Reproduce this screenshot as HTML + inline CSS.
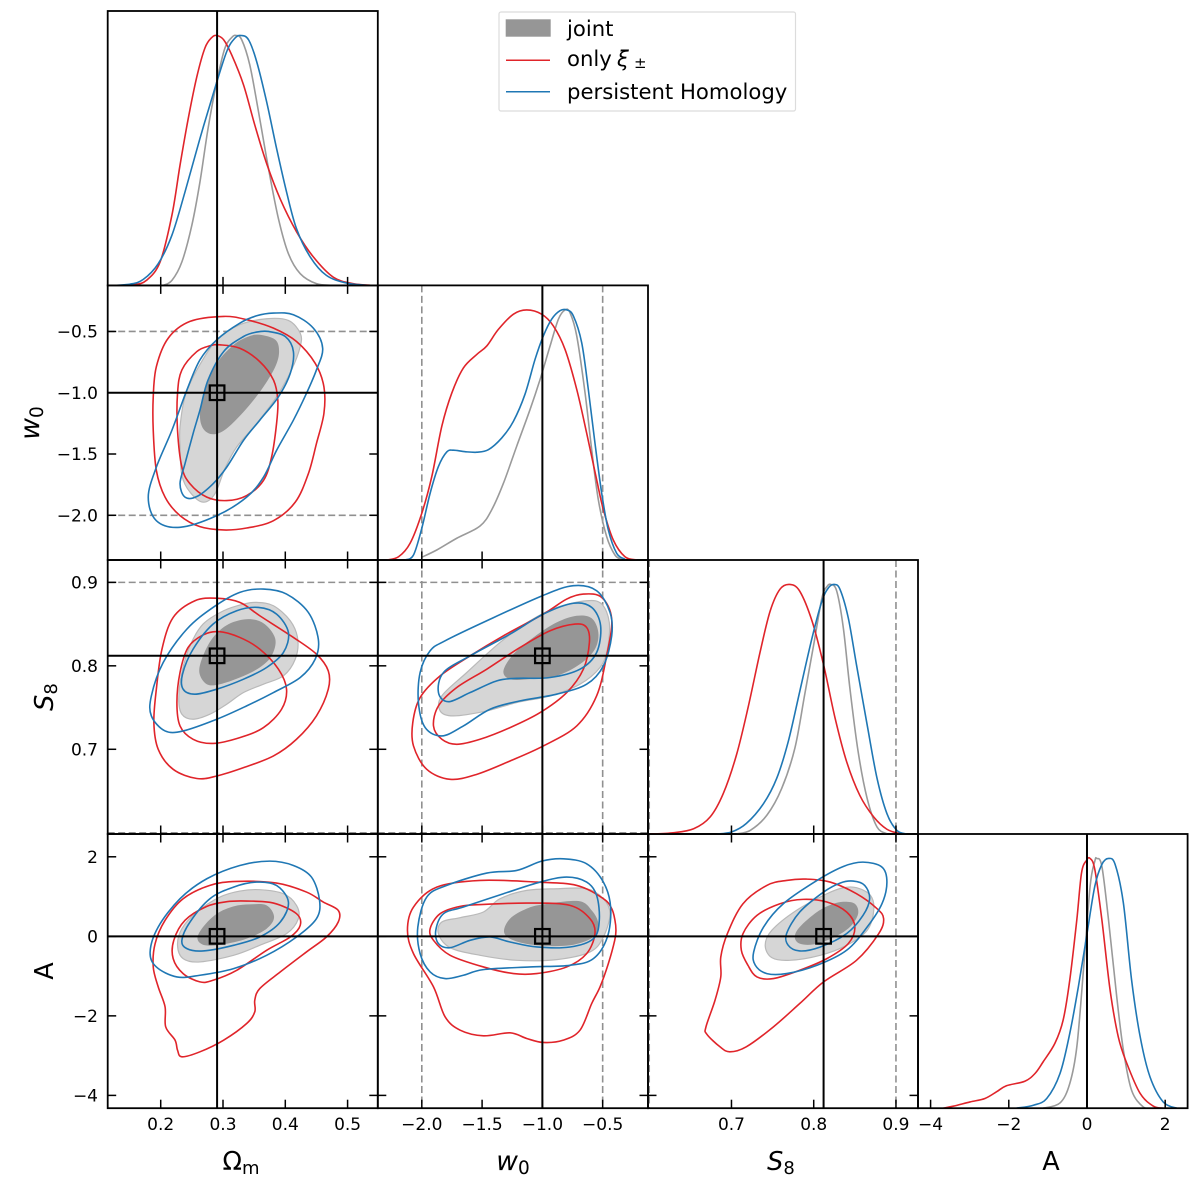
<!DOCTYPE html>
<html lang="en">
<head>
<meta charset="utf-8">
<title>Triangle plot of posterior constraints</title>
<style>
html,body{margin:0;padding:0;background:#fff;width:1200px;height:1182px;overflow:hidden}
svg{display:block;font-family:"DejaVu Sans","Liberation Sans",sans-serif;filter:blur(0.3px)}
</style>
</head>
<body>
<svg id="chart" xmlns="http://www.w3.org/2000/svg" width="1200" height="1182" viewBox="0 0 1200 1182">
  <rect x="0" y="0" width="1200" height="1182" fill="#ffffff"/>
  <g id="panels"></g>

  <g>
    <rect x="499" y="12" width="296.5" height="99" rx="2" fill="#fff" stroke="#dcdcdc" stroke-width="1.2"/>
    <rect x="505.7" y="19.3" width="45" height="17.4" fill="#969696"/>
    <text x="567" y="36" font-size="21.2" fill="#000">joint</text>
    <line x1="506" x2="550" y1="60.3" y2="60.3" stroke="#e0242a" stroke-width="1.5"/>
    <text x="567" y="66" font-size="21.2" fill="#000">only <tspan font-style="italic" x="617">ξ</tspan><tspan font-size="15" x="634" y="68">±</tspan></text>
    <line x1="506" x2="550" y1="91.7" y2="91.7" stroke="#1f77b4" stroke-width="1.5"/>
    <text x="567" y="99" font-size="21.2" fill="#000">persistent Homology</text>
  </g>

  <g fill="#000" font-size="25.5">
    <text x="241" y="1170" text-anchor="middle">Ω<tspan font-size="18" dy="4">m</tspan></text>
    <text x="513" y="1170" text-anchor="middle" font-size="26.5"><tspan font-style="italic">w</tspan><tspan font-size="18.5" dy="4">0</tspan></text>
    <text x="781" y="1170" text-anchor="middle"><tspan font-style="italic">S</tspan><tspan font-size="18" dy="4">8</tspan></text>
    <text x="1051" y="1170" text-anchor="middle">A</text>
    <text transform="translate(39 423) rotate(-90)" text-anchor="middle" font-size="26.5"><tspan font-style="italic">w</tspan><tspan font-size="18.5" dy="4">0</tspan></text>
    <text transform="translate(53 697) rotate(-90)" text-anchor="middle"><tspan font-style="italic">S</tspan><tspan font-size="18" dy="4">8</tspan></text>
    <text transform="translate(53 971) rotate(-90)" text-anchor="middle">A</text>
  </g>
</svg>

<script>
// ---------- tick values and labels ----------
const omTicks = [0.2, 0.3, 0.4, 0.5];
const omTickLabels = ['0.2', '0.3', '0.4', '0.5'];
const w0Ticks = [-2.0, -1.5, -1.0, -0.5];
const w0TickLabels = ['\u22122.0', '\u22121.5', '\u22121.0', '\u22120.5'];
const s8Ticks = [0.7, 0.8, 0.9];
const s8TickLabels = ['0.7', '0.8', '0.9'];
const aTicks = [-4, -2, 0, 2];
const aTickLabels = ['\u22124', '\u22122', '0', '2'];

// ---------- axis limits, truth values and prior bounds (data units) ----------
const omLimits = [0.1149, 0.5485];
const w0Limits = [-2.365, -0.124];
const s8Limits = [0.5985, 0.9268];
const aLimits = [-4.322, 2.573];
const densityLimits = [0, 1.098];
const truthValues = [0.2905, -1.0, 0.812, 0.0];
const w0PriorBounds = [-2.0, -0.5];
const s8PriorBounds = [0.6, 0.9];

// ---------- 1D marginals: [parameter, normalised density] ----------
const omJoint1D = [[.204,0],[.218,.020],[.234,.094],[.250,.241],[.263,.414],[.276,.628],[.290,.815],[.303,.949],[.314,.992],[.321,1],[.330,.983],[.343,.882],[.357,.695],[.373,.468],[.389,.267],[.405,.127],[.424,.047],[.450,.007],[.477,0]];
const omOnly1D = [[.124,0],[.156,.003],[.177,.020],[.199,.094],[.218,.281],[.231,.481],[.244,.665],[.258,.835],[.271,.950],[.282,.992],[.290,1],[.301,.983],[.314,.922],[.333,.802],[.351,.642],[.370,.488],[.392,.345],[.418,.215],[.445,.114],[.477,.033],[.509,.007],[.541,0]];
const omPersistent1D = [[.124,0],[.151,.005],[.172,.024],[.196,.087],[.218,.201],[.239,.374],[.263,.588],[.287,.789],[.306,.936],[.319,.989],[.329,1],[.341,.983],[.354,.896],[.370,.735],[.386,.548],[.402,.374],[.418,.227],[.440,.114],[.466,.040],[.499,.009],[.536,0]];

const w0Joint1D = [[-2.0,.011],[-1.876,.040],[-1.710,.087],[-1.517,.136],[-1.420,.201],[-1.323,.307],[-1.213,.455],[-1.102,.602],[-1.019,.722],[-.936,.856],[-.867,.963],[-.812,1],[-.771,.989],[-.715,.896],[-.646,.668],[-.591,.441],[-.536,.241],[-.467,.094],[-.398,.020],[-.343,.003]];
const w0Only1D = [[-2.290,0],[-2.193,.013],[-2.097,.067],[-2.0,.187],[-1.917,.334],[-1.834,.535],[-1.751,.668],[-1.655,.768],[-1.544,.822],[-1.461,.856],[-1.365,.922],[-1.240,.983],[-1.130,1],[-1.006,.983],[-.909,.936],[-.812,.842],[-.715,.682],[-.633,.508],[-.550,.321],[-.494,.201],[-.412,.080],[-.315,.013],[-.218,0]];
const w0Persistent1D = [[-2.138,0],[-2.069,.020],[-2.0,.127],[-1.931,.267],[-1.862,.374],[-1.793,.432],[-1.738,.439],[-1.641,.433],[-1.544,.431],[-1.448,.441],[-1.337,.488],[-1.240,.555],[-1.144,.663],[-1.061,.802],[-.992,.896],[-.923,.963],[-.854,.997],[-.798,1],[-.743,.976],[-.674,.869],[-.619,.682],[-.564,.468],[-.508,.267],[-.453,.120],[-.384,.027],[-.315,.003]];

const s8Joint1D = [[.706,0],[.723,.015],[.743,.075],[.761,.182],[.777,.343],[.789,.558],[.800,.759],[.810,.946],[.816,.991],[.821,1],[.828,.973],[.836,.826],[.844,.584],[.854,.330],[.865,.142],[.877,.028],[.889,.001]];
const s8Only1D = [[.601,0],[.629,.005],[.654,.021],[.674,.068],[.690,.162],[.706,.316],[.720,.504],[.735,.732],[.747,.893],[.759,.981],[.771,1],[.783,.973],[.798,.853],[.812,.678],[.826,.464],[.840,.290],[.856,.155],[.873,.068],[.889,.019],[.905,.001]];
const s8Persistent1D = [[.682,0],[.700,.008],[.718,.042],[.739,.122],[.755,.223],[.769,.370],[.783,.571],[.798,.786],[.810,.933],[.818,.987],[.825,1],[.832,.980],[.842,.866],[.852,.678],[.865,.437],[.877,.223],[.889,.082],[.901,.015],[.913,0]];

const aJoint1D = [[-1.12,0],[-.69,.021],[-.44,.099],[-.26,.246],[-.09,.554],[.08,.889],[.20,.989],[.25,1],[.38,.969],[.55,.755],[.76,.447],[.93,.233],[1.14,.072],[1.44,.005],[1.70,0]];
const aOnly1D = [[-3.68,0],[-3.42,.008],[-2.99,.025],[-2.61,.039],[-2.31,.066],[-2.06,.090],[-1.59,.108],[-1.33,.139],[-1.12,.186],[-.82,.260],[-.61,.353],[-.44,.514],[-.26,.755],[-.14,.942],[-.01,.993],[.08,1],[.20,.956],[.38,.755],[.59,.474],[.80,.286],[1.02,.179],[1.36,.059],[1.70,.008],[1.95,0]];
const aPersistent1D = [[-1.80,0],[-1.37,.012],[-1.03,.039],[-.69,.139],[-.44,.300],[-.22,.487],[-.01,.688],[.20,.889],[.38,.976],[.55,1],[.72,.976],[.93,.822],[1.14,.514],[1.36,.286],[1.61,.126],[1.95,.025],[2.30,0]];

// ---------- 2D credible contours: [x parameter, y parameter] ----------
// Omega_m vs w0
const omW0Joint95 = [[.370,-.396],[.405,-.410],[.424,-.514],[.424,-.623],[.410,-.814],[.386,-1.033],[.354,-1.251],[.322,-1.443],[.303,-1.620],[.287,-1.825],[.268,-1.893],[.247,-1.811],[.234,-1.675],[.231,-1.443],[.231,-1.279],[.239,-1.033],[.258,-.814],[.290,-.568],[.327,-.445]];
const omW0Joint68 = [[.359,-.527],[.384,-.568],[.390,-.664],[.384,-.787],[.365,-.951],[.338,-1.128],[.306,-1.292],[.284,-1.339],[.268,-1.292],[.263,-1.169],[.271,-.978],[.290,-.760],[.317,-.609],[.341,-.541]];
const omW0Only95 = [[.301,-.377],[.338,-.404],[.381,-.473],[.418,-.582],[.448,-.760],[.462,-.951],[.462,-1.169],[.450,-1.415],[.437,-1.661],[.416,-1.893],[.381,-2.044],[.338,-2.104],[.301,-2.120],[.263,-2.093],[.231,-2.003],[.207,-1.852],[.193,-1.634],[.188,-1.306],[.188,-1.033],[.193,-.787],[.212,-.555],[.247,-.418]];
const omW0Only68 = [[.295,-.609],[.327,-.637],[.359,-.746],[.381,-.896],[.388,-1.060],[.386,-1.251],[.378,-1.525],[.365,-1.716],[.338,-1.839],[.306,-1.880],[.274,-1.852],[.247,-1.743],[.234,-1.607],[.227,-1.306],[.227,-1.005],[.234,-.814],[.258,-.664],[.279,-.617]];
const omW0Persistent95 = [[.381,-.350],[.413,-.363],[.445,-.473],[.460,-.637],[.450,-.814],[.434,-1.005],[.413,-1.224],[.386,-1.470],[.365,-1.689],[.338,-1.852],[.290,-2.003],[.231,-2.098],[.193,-2.044],[.180,-1.852],[.193,-1.607],[.218,-1.306],[.242,-.978],[.263,-.732],[.290,-.568],[.327,-.432],[.354,-.372]];
const omW0Persistent68 = [[.373,-.500],[.400,-.541],[.413,-.664],[.408,-.842],[.389,-1.033],[.359,-1.224],[.333,-1.388],[.306,-1.607],[.284,-1.743],[.258,-1.847],[.239,-1.852],[.231,-1.743],[.239,-1.579],[.252,-1.333],[.263,-1.142],[.276,-.896],[.301,-.664],[.333,-.541],[.354,-.505]];

// Omega_m vs S8
const omS8Joint95 = [[.354,.876],[.381,.872],[.408,.854],[.420,.832],[.416,.808],[.397,.788],[.365,.778],[.333,.768],[.306,.754],[.279,.742],[.252,.736],[.234,.742],[.229,.760],[.234,.792],[.247,.824],[.268,.850],[.301,.866],[.333,.874]];
const omS8Joint68 = [[.341,.856],[.367,.850],[.384,.832],[.378,.812],[.359,.798],[.327,.786],[.295,.778],[.274,.778],[.262,.792],[.268,.812],[.284,.834],[.309,.850]];
const omS8Only95 = [[.290,.881],[.327,.876],[.359,.860],[.413,.834],[.450,.814],[.469,.794],[.469,.772],[.450,.740],[.418,.712],[.381,.692],[.333,.678],[.290,.668],[.258,.665],[.220,.676],[.196,.700],[.189,.732],[.193,.772],[.202,.820],[.220,.858],[.255,.878]];
const omS8Only68 = [[.293,.841],[.327,.834],[.359,.820],[.389,.796],[.402,.772],[.394,.748],[.365,.726],[.327,.714],[.284,.707],[.252,.712],[.231,.728],[.226,.756],[.231,.792],[.244,.822],[.268,.837]];
const omS8Persistent95 = [[.365,.892],[.402,.886],[.437,.864],[.453,.832],[.448,.808],[.424,.786],[.381,.768],[.338,.752],[.290,.736],[.236,.722],[.207,.722],[.185,.740],[.185,.764],[.204,.804],[.242,.844],[.284,.870],[.327,.888]];
const omS8Persistent68 = [[.357,.870],[.386,.862],[.405,.840],[.397,.816],[.370,.798],[.333,.784],[.290,.772],[.255,.766],[.236,.772],[.235,.790],[.252,.820],[.284,.850],[.322,.866]];

// Omega_m vs A
const omAJoint95 = [[.359,1.172],[.397,1.071],[.418,.778],[.421,.444],[.402,.067],[.359,-.226],[.317,-.477],[.263,-.644],[.236,-.561],[.227,-.226],[.234,.192],[.258,.611],[.295,.987],[.327,1.138]];
const omAJoint68 = [[.343,.803],[.370,.778],[.382,.485],[.370,.192],[.338,-.059],[.301,-.201],[.271,-.226],[.259,-.059],[.268,.234],[.290,.569],[.317,.753]];
const omAOnly95 = [[.322,1.381],[.386,1.339],[.434,1.113],[.461,.862],[.485,.653],[.485,.360],[.466,-.017],[.434,-.393],[.392,-.895],[.359,-1.314],[.351,-1.607],[.351,-1.900],[.338,-2.192],[.301,-2.611],[.263,-2.904],[.234,-3.029],[.227,-2.862],[.223,-2.611],[.208,-2.276],[.207,-1.774],[.196,-1.272],[.188,-.770],[.191,-.184],[.207,.402],[.236,.946],[.279,1.280]];
const omAOnly68 = [[.338,.887],[.381,.837],[.418,.569],[.424,.276],[.408,-.017],[.370,-.351],[.322,-.854],[.284,-1.105],[.263,-1.146],[.236,-.937],[.220,-.561],[.221,-.100],[.239,.402],[.274,.753],[.306,.870]];
const omAPersistent95 = [[.375,1.891],[.413,1.782],[.442,1.490],[.455,.904],[.450,.444],[.418,-.017],[.370,-.477],[.317,-.812],[.263,-.979],[.226,-1.021],[.193,-.770],[.183,-.393],[.196,.234],[.231,.946],[.274,1.448],[.327,1.782]];
const omAPersistent68 = [[.354,1.364],[.386,1.280],[.405,.862],[.392,.360],[.359,-.017],[.317,-.226],[.268,-.368],[.242,-.310],[.234,-.100],[.247,.360],[.279,.946],[.317,1.238]];

// w0 vs S8
const w0S8Joint95 = [[-.633,.878],[-.508,.874],[-.445,.852],[-.461,.820],[-.522,.798],[-.688,.778],[-.936,.764],[-1.213,.756],[-1.461,.746],[-1.738,.740],[-1.848,.746],[-1.834,.764],[-1.627,.792],[-1.351,.828],[-1.102,.854],[-.881,.870]];
const w0S8Joint68 = [[-.715,.860],[-.591,.857],[-.536,.840],[-.564,.820],[-.688,.802],[-.881,.788],[-1.102,.784],[-1.268,.784],[-1.323,.794],[-1.240,.814],[-1.075,.834],[-.881,.852]];
const w0S8Only95 = [[-.660,.886],[-.508,.882],[-.425,.856],[-.467,.812],[-.550,.764],[-.715,.728],[-.992,.704],[-1.268,.686],[-1.544,.670],[-1.765,.664],[-1.959,.676],[-2.069,.704],[-2.075,.732],[-2.014,.762],[-1.848,.788],[-1.599,.812],[-1.323,.836],[-.992,.862],[-.798,.880]];
const w0S8Only68 = [[-.729,.850],[-.633,.846],[-.610,.828],[-.660,.796],[-.798,.768],[-1.019,.744],[-1.268,.726],[-1.517,.712],[-1.710,.706],[-1.834,.712],[-1.903,.728],[-1.862,.752],[-1.710,.774],[-1.461,.796],[-1.185,.822],[-.936,.842]];
const w0S8Persistent95 = [[-.743,.896],[-.550,.890],[-.439,.864],[-.425,.836],[-.494,.800],[-.633,.778],[-.881,.766],[-1.185,.758],[-1.434,.748],[-1.655,.728],[-1.834,.716],[-1.972,.726],[-2.028,.756],[-2.014,.792],[-1.931,.818],[-1.807,.830],[-1.461,.854],[-1.0,.884]];
const w0S8Persistent68 = [[-.743,.875],[-.591,.870],[-.517,.848],[-.550,.816],[-.688,.796],[-.936,.786],[-1.213,.785],[-1.378,.782],[-1.599,.768],[-1.779,.757],[-1.862,.768],[-1.820,.792],[-1.599,.812],[-1.268,.838],[-.992,.862]];

// w0 vs A
const w0AJoint95 = [[-.881,1.197],[-.633,1.197],[-.494,.946],[-.439,.569],[-.494,-.017],[-.605,-.393],[-.881,-.586],[-1.213,-.603],[-1.517,-.477],[-1.765,-.285],[-1.862,.067],[-1.834,.360],[-1.682,.469],[-1.489,.611],[-1.351,.946],[-1.130,1.155]];
const w0AJoint68 = [[-.992,.803],[-.702,.887],[-.591,.653],[-.536,.318],[-.577,-.017],[-.771,-.226],[-1.047,-.226],[-1.240,-.100],[-1.318,.109],[-1.268,.444],[-1.130,.695]];
const w0AOnly95 = [[-1.517,1.406],[-1.047,1.364],[-.715,1.280],[-.494,.946],[-.425,.695],[-.398,.402],[-.390,.151],[-.400,-.100],[-.453,-.686],[-.522,-1.272],[-.591,-1.690],[-.688,-2.360],[-.826,-2.611],[-.992,-2.669],[-1.130,-2.569],[-1.268,-2.427],[-1.489,-2.502],[-1.682,-2.360],[-1.807,-2.025],[-1.903,-1.272],[-2.069,-.435],[-2.119,.151],[-2.069,.736],[-1.876,1.238]];
const w0AOnly68 = [[-1.489,.803],[-1.102,.837],[-.771,.778],[-.605,.444],[-.564,.067],[-.633,-.435],[-.798,-.770],[-1.047,-.937],[-1.240,-.937],[-1.489,-.770],[-1.765,-.477],[-1.903,-.100],[-1.931,.192],[-1.848,.569],[-1.682,.753]];
const w0APersistent95 = [[-.826,1.950],[-.633,1.824],[-.494,1.364],[-.434,.736],[-.461,-.017],[-.577,-.561],[-.771,-.728],[-1.102,-.770],[-1.489,-.837],[-1.655,-.979],[-1.807,-1.063],[-1.931,-.895],[-2.014,-.435],[-2.033,.234],[-1.959,.987],[-1.793,1.280],[-1.461,1.590],[-1.213,1.657],[-1.006,1.891]];
const w0APersistent68 = [[-.798,1.490],[-.633,1.364],[-.550,1.029],[-.528,.402],[-.577,-.059],[-.771,-.268],[-1.047,-.268],[-1.268,-.142],[-1.434,-.017],[-1.599,-.100],[-1.765,-.285],[-1.862,-.184],[-1.884,.151],[-1.820,.569],[-1.655,.736],[-1.323,1.071],[-1.019,1.364]];

// S8 vs A
const s8AJoint95 = [[.852,1.222],[.869,1.029],[.873,.653],[.865,.151],[.840,-.226],[.808,-.477],[.771,-.603],[.749,-.536],[.741,-.226],[.749,.151],[.779,.653],[.816,1.071],[.836,1.222]];
const s8AJoint68 = [[.836,.870],[.850,.820],[.854,.569],[.844,.234],[.824,-.033],[.800,-.201],[.783,-.184],[.777,-.017],[.783,.234],[.804,.611],[.822,.803]];
const s8AOnly95 = [[.791,1.439],[.820,1.364],[.852,1.071],[.877,.695],[.885,.444],[.879,.067],[.852,-.603],[.812,-1.146],[.783,-1.690],[.751,-2.276],[.718,-2.778],[.698,-2.904],[.686,-2.778],[.670,-2.460],[.669,-2.276],[.680,-1.607],[.687,-1.021],[.687,-.519],[.695,.067],[.714,.820],[.743,1.280],[.767,1.406]];
const s8AOnly68 = [[.787,.929],[.816,.862],[.840,.611],[.850,.234],[.842,-.184],[.816,-.561],[.783,-.854],[.751,-1.063],[.731,-1.021],[.720,-.728],[.712,-.351],[.714,.067],[.731,.527],[.759,.820]];
const s8APersistent95 = [[.860,1.866],[.883,1.741],[.889,1.364],[.883,.820],[.865,.234],[.840,-.351],[.804,-.728],[.767,-.937],[.743,-.937],[.729,-.728],[.727,-.393],[.739,.234],[.763,.820],[.804,1.406],[.836,1.757]];
const s8APersistent68 = [[.848,1.389],[.862,1.280],[.868,.946],[.860,.527],[.840,.067],[.808,-.268],[.783,-.368],[.769,-.226],[.767,.067],[.783,.611],[.812,1.113],[.832,1.339]];

// ---------- drawing ----------
const SVG_NS = 'http://www.w3.org/2000/svg';
const root = document.getElementById('panels');
const colEdges = [107.7, 377.8, 648, 918, 1187.6];
const rowEdges = [11, 285.4, 560, 834, 1108.2];
const limits = [omLimits, w0Limits, s8Limits, aLimits];
const ticks = [omTicks, w0Ticks, s8Ticks, aTicks];
const tickLabels = [omTickLabels, w0TickLabels, s8TickLabels, aTickLabels];
const paramNames = ['omega-m', 'w0', 's8', 'a'];
const COLOR_RED = '#e0242a';
const COLOR_BLUE = '#1f77b4';
const COLOR_GRAY = '#9a9a9a';
const CURVE_WIDTH = 1.6;

function xScale(col, v) {
  const lim = limits[col];
  return colEdges[col] + (v - lim[0]) / (lim[1] - lim[0]) * (colEdges[col + 1] - colEdges[col]);
}
function yScale(row, v) {
  const lim = limits[row];
  return rowEdges[row + 1] - (v - lim[0]) / (lim[1] - lim[0]) * (rowEdges[row + 1] - rowEdges[row]);
}
function densityScale(row, d) {
  return rowEdges[row + 1] - (d - densityLimits[0]) / (densityLimits[1] - densityLimits[0]) * (rowEdges[row + 1] - rowEdges[row]);
}
function make(tag, name, attrs, parent) {
  const el = document.createElementNS(SVG_NS, tag);
  
  
  for (const k in attrs) el.setAttribute(k, attrs[k]);
  parent.appendChild(el);
  return el;
}
function f(n) { return n.toFixed(2); }
function closedPath(pts) {
  const n = pts.length;
  let d = 'M' + f(pts[0][0]) + ' ' + f(pts[0][1]);
  for (let i = 0; i < n; i++) {
    const p0 = pts[(i - 1 + n) % n], p1 = pts[i], p2 = pts[(i + 1) % n], p3 = pts[(i + 2) % n];
    d += 'C' + f(p1[0] + (p2[0] - p0[0]) / 6) + ' ' + f(p1[1] + (p2[1] - p0[1]) / 6) + ' ' +
         f(p2[0] - (p3[0] - p1[0]) / 6) + ' ' + f(p2[1] - (p3[1] - p1[1]) / 6) + ' ' + f(p2[0]) + ' ' + f(p2[1]);
  }
  return d + 'Z';
}
function openPath(pts) {
  const n = pts.length;
  let d = 'M' + f(pts[0][0]) + ' ' + f(pts[0][1]);
  for (let i = 0; i < n - 1; i++) {
    const p0 = pts[Math.max(i - 1, 0)], p1 = pts[i], p2 = pts[i + 1], p3 = pts[Math.min(i + 2, n - 1)];
    d += 'C' + f(p1[0] + (p2[0] - p0[0]) / 6) + ' ' + f(p1[1] + (p2[1] - p0[1]) / 6) + ' ' +
         f(p2[0] - (p3[0] - p1[0]) / 6) + ' ' + f(p2[1] - (p3[1] - p1[1]) / 6) + ' ' + f(p2[0]) + ' ' + f(p2[1]);
  }
  return d;
}

const contourSets = [
  { col: 0, row: 1, j95: omW0Joint95, j68: omW0Joint68, o95: omW0Only95, o68: omW0Only68, p95: omW0Persistent95, p68: omW0Persistent68 },
  { col: 0, row: 2, j95: omS8Joint95, j68: omS8Joint68, o95: omS8Only95, o68: omS8Only68, p95: omS8Persistent95, p68: omS8Persistent68 },
  { col: 0, row: 3, j95: omAJoint95, j68: omAJoint68, o95: omAOnly95, o68: omAOnly68, p95: omAPersistent95, p68: omAPersistent68 },
  { col: 1, row: 2, j95: w0S8Joint95, j68: w0S8Joint68, o95: w0S8Only95, o68: w0S8Only68, p95: w0S8Persistent95, p68: w0S8Persistent68 },
  { col: 1, row: 3, j95: w0AJoint95, j68: w0AJoint68, o95: w0AOnly95, o68: w0AOnly68, p95: w0APersistent95, p68: w0APersistent68 },
  { col: 2, row: 3, j95: s8AJoint95, j68: s8AJoint68, o95: s8AOnly95, o68: s8AOnly68, p95: s8APersistent95, p68: s8APersistent68 }
];
const marginalSets = [
  { idx: 0, joint: omJoint1D, only: omOnly1D, persistent: omPersistent1D },
  { idx: 1, joint: w0Joint1D, only: w0Only1D, persistent: w0Persistent1D },
  { idx: 2, joint: s8Joint1D, only: s8Only1D, persistent: s8Persistent1D },
  { idx: 3, joint: aJoint1D, only: aOnly1D, persistent: aPersistent1D }
];

const defs = make('defs', 'clip-definitions', {}, root);
function panelGroup(col, row, label) {
  const id = 'clip-' + col + '-' + row;
  const cp = document.createElementNS(SVG_NS, 'clipPath');
  cp.setAttribute('id', id);
  const r = document.createElementNS(SVG_NS, 'rect');
  r.setAttribute('x', colEdges[col]);
  r.setAttribute('y', rowEdges[row]);
  r.setAttribute('width', colEdges[col + 1] - colEdges[col]);
  r.setAttribute('height', rowEdges[row + 1] - rowEdges[row]);
  cp.appendChild(r);
  defs.appendChild(cp);
  const g = make('g', 'panel-' + label, {}, root);
  const inner = make('g', 'panel-plot-area-' + label, { 'clip-path': 'url(#' + id + ')' }, g);
  return { g, inner };
}
function drawPriorBounds(parent, col, row, diag, label) {
  const x0 = colEdges[col], x1 = colEdges[col + 1], y0 = rowEdges[row], y1 = rowEdges[row + 1];
  const style = { stroke: '#909090', 'stroke-width': 1.6, 'stroke-dasharray': '7 3.5', fill: 'none' };
  const verticalBounds = col === 1 ? w0PriorBounds : col === 2 ? s8PriorBounds : [];
  verticalBounds.forEach(function (v) {
    const x = xScale(col, v);
    make('line', 'prior-bound-vertical-' + label, Object.assign({ x1: x, x2: x, y1: y0, y2: y1 }, style), parent);
  });
  if (diag) return;
  const horizontalBounds = row === 1 ? w0PriorBounds : row === 2 ? s8PriorBounds : [];
  horizontalBounds.forEach(function (v) {
    const y = yScale(row, v);
    make('line', 'prior-bound-horizontal-' + label, Object.assign({ x1: x0, x2: x1, y1: y, y2: y }, style), parent);
  });
}
function drawTicks(g, col, row, diag, label) {
  const x0 = colEdges[col], x1 = colEdges[col + 1], y0 = rowEdges[row], y1 = rowEdges[row + 1];
  const L = 8.5;
  const tickStyle = { stroke: '#000', 'stroke-width': 1.5 };
  ticks[col].forEach(function (t) {
    const x = xScale(col, t);
    make('line', 'x-tick-' + label, Object.assign({ x1: x, x2: x, y1: y1, y2: y1 - L }, tickStyle), g);
    if (!diag) make('line', 'x-tick-top-' + label, Object.assign({ x1: x, x2: x, y1: y0, y2: y0 + L }, tickStyle), g);
  });
  if (diag) return;
  ticks[row].forEach(function (t) {
    const y = yScale(row, t);
    make('line', 'y-tick-' + label, Object.assign({ x1: x0, x2: x0 + L, y1: y, y2: y }, tickStyle), g);
    make('line', 'y-tick-right-' + label, Object.assign({ x1: x1, x2: x1 - L, y1: y, y2: y }, tickStyle), g);
  });
}
function drawFrame(g, col, row, label) {
  make('rect', 'panel-frame-' + label, {
    x: colEdges[col], y: rowEdges[row],
    width: colEdges[col + 1] - colEdges[col], height: rowEdges[row + 1] - rowEdges[row],
    fill: 'none', stroke: '#000', 'stroke-width': 1.8
  }, g);
}

// Off-diagonal (2D) panels
contourSets.forEach(function (set) {
  const col = set.col, row = set.row;
  const label = paramNames[col] + '-vs-' + paramNames[row];
  const pg = panelGroup(col, row, label);
  const toPx = function (arr) { return arr.map(function (p) { return [xScale(col, p[0]), yScale(row, p[1])]; }); };
  drawPriorBounds(pg.inner, col, row, false, label);
  make('path', 'joint-contour-95-' + label, { d: closedPath(toPx(set.j95)), fill: '#d6d6d6', stroke: '#b9b9b9', 'stroke-width': 1.2 }, pg.inner);
  make('path', 'joint-contour-68-' + label, { d: closedPath(toPx(set.j68)), fill: '#969696', stroke: 'none' }, pg.inner);
  make('path', 'only-xi-contour-95-' + label, { d: closedPath(toPx(set.o95)), fill: 'none', stroke: COLOR_RED, 'stroke-width': CURVE_WIDTH }, pg.inner);
  make('path', 'only-xi-contour-68-' + label, { d: closedPath(toPx(set.o68)), fill: 'none', stroke: COLOR_RED, 'stroke-width': CURVE_WIDTH }, pg.inner);
  make('path', 'persistent-contour-95-' + label, { d: closedPath(toPx(set.p95)), fill: 'none', stroke: COLOR_BLUE, 'stroke-width': CURVE_WIDTH }, pg.inner);
  make('path', 'persistent-contour-68-' + label, { d: closedPath(toPx(set.p68)), fill: 'none', stroke: COLOR_BLUE, 'stroke-width': CURVE_WIDTH }, pg.inner);
  const tx = xScale(col, truthValues[col]), ty = yScale(row, truthValues[row]);
  make('line', 'truth-line-vertical-' + label, { x1: tx, x2: tx, y1: rowEdges[row], y2: rowEdges[row + 1], stroke: '#000', 'stroke-width': 2 }, pg.inner);
  make('line', 'truth-line-horizontal-' + label, { x1: colEdges[col], x2: colEdges[col + 1], y1: ty, y2: ty, stroke: '#000', 'stroke-width': 2 }, pg.inner);
  make('rect', 'truth-marker-' + label, { x: tx - 7.3, y: ty - 7.3, width: 14.6, height: 14.6, fill: 'none', stroke: '#000', 'stroke-width': 2.2 }, pg.inner);
  drawTicks(pg.g, col, row, false, label);
  drawFrame(pg.g, col, row, label);
});

// Diagonal (1D) panels
marginalSets.forEach(function (set) {
  const idx = set.idx;
  const label = 'marginal-' + paramNames[idx];
  const pg = panelGroup(idx, idx, label);
  const toPx = function (arr) { return arr.map(function (p) { return [xScale(idx, p[0]), densityScale(idx, p[1])]; }); };
  drawPriorBounds(pg.inner, idx, idx, true, label);
  make('path', 'joint-curve-' + label, { d: openPath(toPx(set.joint)), fill: 'none', stroke: COLOR_GRAY, 'stroke-width': CURVE_WIDTH }, pg.inner);
  make('path', 'only-xi-curve-' + label, { d: openPath(toPx(set.only)), fill: 'none', stroke: COLOR_RED, 'stroke-width': CURVE_WIDTH }, pg.inner);
  make('path', 'persistent-curve-' + label, { d: openPath(toPx(set.persistent)), fill: 'none', stroke: COLOR_BLUE, 'stroke-width': CURVE_WIDTH }, pg.inner);
  const tx = xScale(idx, truthValues[idx]);
  make('line', 'truth-line-' + label, { x1: tx, x2: tx, y1: rowEdges[idx], y2: rowEdges[idx + 1], stroke: '#000', 'stroke-width': 2 }, pg.inner);
  drawTicks(pg.g, idx, idx, true, label);
  drawFrame(pg.g, idx, idx, label);
});

// Tick labels on the outer axes
const tickLabelGroup = make('g', 'tick-labels', { 'font-size': 17, fill: '#000' }, root);
for (let c = 0; c < 4; c++) {
  ticks[c].forEach(function (t, i) {
    const el = make('text', 'x-tick-label-' + paramNames[c], { x: xScale(c, t), y: 1130, 'text-anchor': 'middle' }, tickLabelGroup);
    el.textContent = tickLabels[c][i];
  });
}
for (let r = 1; r < 4; r++) {
  ticks[r].forEach(function (t, i) {
    const el = make('text', 'y-tick-label-' + paramNames[r], { x: 98, y: yScale(r, t) + 6.2, 'text-anchor': 'end' }, tickLabelGroup);
    el.textContent = tickLabels[r][i];
  });
}
</script>
</body>
</html>
